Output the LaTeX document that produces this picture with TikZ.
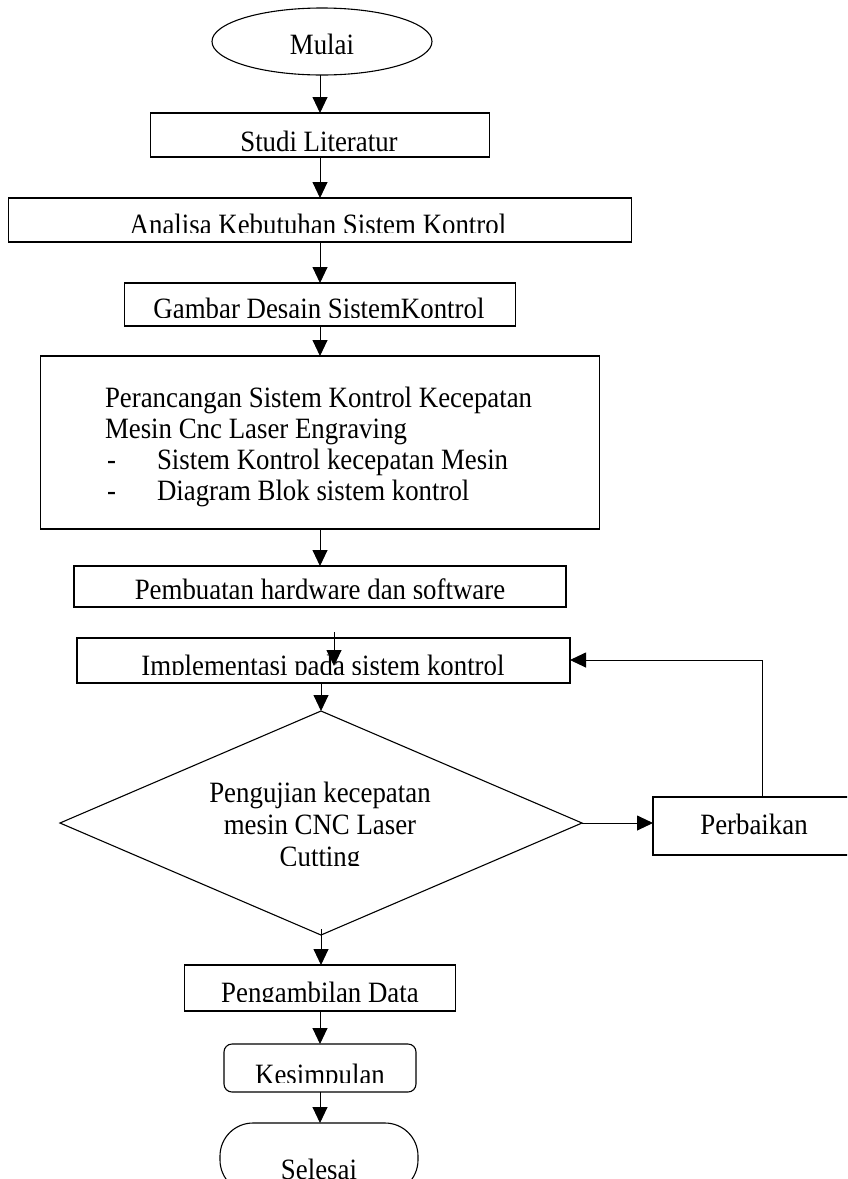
\documentclass[tikz,border=0pt]{standalone}
\usepackage{fontspec}
\setmainfont{Liberation Serif}
\newfontfamily\wordfont[FakeStretch=0.91]{Liberation Serif}
\usetikzlibrary{arrows.meta,shapes.geometric}
\begin{document}
\begin{tikzpicture}[x=1pt,y=-1pt,
  box/.style={draw=black, line width=1.1pt, rectangle, inner sep=0pt, outer sep=0pt},
  txt/.style={inner sep=0pt, outer sep=0pt, anchor=base, font=\wordfont\fontsize{29.5}{32}\selectfont},
  arr/.style={draw=black, line width=0.9pt, -{Triangle[width=15pt,length=16pt]}},
  link/.style={draw=black, line width=0.9pt}]
\clip (0,0) rectangle (847,1179);
\fill[white] (0,0) rectangle (847,1179);

% Mulai
\node[box, ellipse, minimum width=220pt, minimum height=67pt] (mulai) at (322,41.5) {};
\node[txt] (mulaiT) at (322,54) {Mulai};

% Studi Literatur
\node[box, minimum width=339pt, minimum height=44pt] (studi) at (320,135) {};
\node[txt] (studiT) at (319,151.5) {Studi Literatur};

% Analisa
\node[box, minimum width=623pt, minimum height=44pt] (ana) at (320,220) {};
\begin{scope}
\clip (8,198) rectangle (631,232.5);
\node[txt] (anaT) at (318,234) {Analisa Kebutuhan Sistem Kontrol};
\end{scope}

% Gambar
\node[box, minimum width=391pt, minimum height=43pt] (gam) at (320,304.5) {};
\begin{scope}
\clip (125,283) rectangle (516,317);
\node[txt] (gamT) at (319,318.5) {Gambar Desain SistemKontrol};
\end{scope}

% Perancangan
\node[box, minimum width=559pt, minimum height=173pt] (ran) at (320,442.5) {};
\node[txt, anchor=base west] (ran1) at (105,407) {Perancangan Sistem Kontrol Kecepatan};
\node[txt, anchor=base west] (ran2) at (105,438) {Mesin Cnc Laser Engraving};
\node[txt, anchor=base west] (ran3d) at (107,469) {-};
\node[txt, anchor=base west] (ran3) at (157,469) {Sistem Kontrol kecepatan Mesin};
\node[txt, anchor=base west] (ran4d) at (107,500) {-};
\node[txt, anchor=base west] (ran4) at (157,500) {Diagram Blok sistem kontrol};

% Pembuatan
\node[box, minimum width=492pt, minimum height=41pt] (buat) at (320,586.5) {};
\begin{scope}
\clip (74,566) rectangle (566,598);
\node[txt] (buatT) at (320,599.5) {Pembuatan hardware dan software};
\end{scope}

% Implementasi
\node[box, minimum width=493pt, minimum height=45pt] (impl) at (323.5,660.5) {};
\begin{scope}
\clip (77,638) rectangle (570,674);
\node[txt] (implT) at (323,675.5) {Implementasi pada sistem kontrol};
\end{scope}

% Pengujian (diamond)
\node[box, diamond, minimum width=522pt, minimum height=224pt] (uji) at (321,823) {};
\node[txt] (uji1) at (320,802) {Pengujian kecepatan};
\node[txt] (uji2) at (320,834) {mesin CNC Laser};
\begin{scope}
\clip (200,840) rectangle (440,865);
\node[txt] (uji3) at (320,866.5) {Cutting};
\end{scope}

% Perbaikan
\node[box, minimum width=202pt, minimum height=58pt] (perb) at (754,826) {};
\node[txt] (perbT) at (754,834) {Perbaikan};

% Pengambilan Data
\node[box, minimum width=271pt, minimum height=46pt] (ambil) at (320,988) {};
\begin{scope}
\clip (184,965) rectangle (455,1001);
\node[txt] (ambilT) at (320,1002.5) {Pengambilan Data};
\end{scope}

% Kesimpulan
\node[box, rounded corners=8pt, minimum width=192pt, minimum height=48pt] (simp) at (320,1068) {};
\begin{scope}
\clip (224,1044) rectangle (416,1082);
\node[txt] (simpT) at (320,1084) {Kesimpulan};
\end{scope}

% Selesai
\node[box, rounded corners=33pt, minimum width=198pt, minimum height=70pt] (selesai) at (319,1158) {};
\node[txt] (selT) at (319,1179) {Selesai};

% connectors
\draw[arr] (mulai.south -| 320,0) -- (studi.north -| 320,0);
\draw[arr] (studi.south -| 320,0) -- (ana.north -| 320,0);
\draw[arr] (ana.south -| 320,0) -- (gam.north -| 320,0);
\draw[arr] (gam.south -| 320,0) -- (ran.north -| 320,0);
\draw[arr] (ran.south -| 320,0) -- (buat.north -| 320,0);
\coordinate (ovs) at (334,632);
\coordinate (ove) at (334,666);
\draw[arr] (ovs) -- (ove);
\draw[arr] (impl.south -| uji.north) -- (uji.north);
\draw[arr] (uji.east) -- (uji.east -| perb.west);
\coordinate (fbtop) at (762,660);
\draw[arr] (perb.north -| fbtop) -- (fbtop) -- (fbtop -| impl.east);
\draw[arr] ([yshift=6pt]uji.south) -- (ambil.north -| uji.south);
\draw[arr] (ambil.south -| 320,0) -- (simp.north -| 320,0);
\draw[arr] (simp.south -| 320,0) -- (selesai.north -| 320,0);
\end{tikzpicture}
\end{document}
